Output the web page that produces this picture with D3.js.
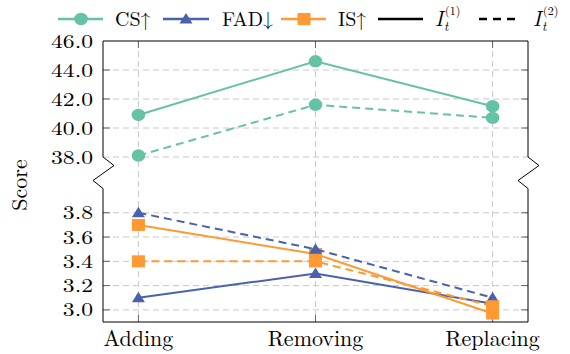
<!DOCTYPE html>
<html lang="en">
<head>
<meta charset="UTF-8">
<title>Score chart</title>
<script src="https://cdn.jsdelivr.net/npm/d3@7"></script>
</head>
<body style="margin:0; background:#fff">
<script>
// data
var categories = ["Adding", "Removing", "Replacing"];
var csI1 = [40.9, 44.6, 41.5];
var csI2 = [38.1, 41.6, 40.7];
var fadI1 = [3.1, 3.3, 3.05];
var fadI2 = [3.8, 3.5, 3.1];
var isI1 = [3.7, 3.46, 2.97];
var isI2 = [3.4, 3.4, 3.03];
var topTicks = [38, 40, 42, 44, 46];
var bottomTicks = [3.0, 3.2, 3.4, 3.6, 3.8];

var width = 570, height = 354;
var left = 103, right = 528;
var topY = 41, topBottom = 157, botTop = 188.5, botBottom = 322;

var teal = "#66c2a5", blue = "#4a62ad", orange = "#ff9933";
var gridColor = "#c8c8c8";
var serif = "'Latin Modern Roman', 'Liberation Serif', serif";

var svg = d3.select("body").append("svg")
    .attr("width", width)
    .attr("height", height);

// scales
var x = d3.scalePoint().domain(categories).range([left, right]).padding(0.2);
var yTop = d3.scaleLinear().domain([38, 46]).range([topBottom, topY]);
var yBot = d3.scaleLinear().domain([2.9, 4.0]).range([botBottom, botTop]);

// grid
var grid = svg.append("g");
topTicks.forEach(function (t) {
    if (t === 46) return;
    grid.append("line")
        .attr("x1", left).attr("x2", right)
        .attr("y1", yTop(t)).attr("y2", yTop(t))
        .attr("stroke", gridColor).attr("stroke-dasharray", "6,4");
});
bottomTicks.forEach(function (t) {
    grid.append("line")
        .attr("x1", left).attr("x2", right)
        .attr("y1", yBot(t)).attr("y2", yBot(t))
        .attr("stroke", gridColor).attr("stroke-dasharray", "6,4");
});
categories.forEach(function (c) {
    grid.append("line")
        .attr("x1", x(c)).attr("x2", x(c))
        .attr("y1", topY).attr("y2", botBottom)
        .attr("stroke", gridColor).attr("stroke-dasharray", "6,4");
});

// ticks (inward, both sides)
var ticks = svg.append("g").attr("stroke", "#666").attr("stroke-width", 1);
var tl = 7;
topTicks.forEach(function (t) {
    if (t === 46 || t === 38) return;
    ticks.append("line").attr("x1", left).attr("x2", left + tl).attr("y1", yTop(t)).attr("y2", yTop(t));
    ticks.append("line").attr("x1", right).attr("x2", right - tl).attr("y1", yTop(t)).attr("y2", yTop(t));
});
bottomTicks.forEach(function (t) {
    ticks.append("line").attr("x1", left).attr("x2", left + tl).attr("y1", yBot(t)).attr("y2", yBot(t));
    ticks.append("line").attr("x1", right).attr("x2", right - tl).attr("y1", yBot(t)).attr("y2", yBot(t));
});
categories.forEach(function (c) {
    ticks.append("line").attr("x1", x(c)).attr("x2", x(c)).attr("y1", topY).attr("y2", topY + tl);
    ticks.append("line").attr("x1", x(c)).attr("x2", x(c)).attr("y1", botBottom).attr("y2", botBottom - tl);
});

// frame with break zigzags
var frame = svg.append("g").attr("fill", "none").attr("stroke", "#000").attr("stroke-width", 1);
frame.append("path").attr("d",
    "M" + left + "," + topBottom + "V" + topY + "H" + right + "V" + topBottom);
frame.append("path").attr("d",
    "M" + left + "," + botTop + "V" + botBottom + "H" + right + "V" + botTop);
function zig(x0) {
    return "M" + x0 + "," + topBottom + "L" + (x0 + 11) + "," + (topBottom + 8.5) +
        "L" + (x0 - 10) + "," + (botTop - 8) + "L" + x0 + "," + botTop;
}
frame.append("path").attr("d", zig(left));
frame.append("path").attr("d", zig(right));

// tick labels
function stretchText(sel, k) {
    sel.each(function () {
        var len = this.getComputedTextLength();
        d3.select(this).attr("textLength", len * k).attr("lengthAdjust", "spacingAndGlyphs");
    });
}
function txt(g, size) {
    return g.append("text").style("font-family", serif).style("font-size", size + "px").attr("fill", "#000");
}
var labels = svg.append("g");
topTicks.forEach(function (d) {
    var t = txt(labels, 19.5).attr("x", 93).attr("y", yTop(d) + 6.5)
        .attr("text-anchor", "end").text(d.toFixed(1));
    stretchText(t, 1.21);
});
bottomTicks.forEach(function (d) {
    var t = txt(labels, 19.5).attr("x", 93).attr("y", yBot(d) + 6.5)
        .attr("text-anchor", "end").text(d.toFixed(1));
    stretchText(t, 1.21);
});
categories.forEach(function (d) {
    txt(labels, 22).attr("x", x(d)).attr("y", 346)
        .attr("text-anchor", "middle").text(d);
});

txt(svg, 22)
    .attr("transform", "translate(27,185) rotate(-90)")
    .attr("text-anchor", "middle")
    .text("Score");

// series
var line = d3.line();
function drawMarker(g, cx, cy, color, marker) {
    if (marker === "circle") {
        g.append("ellipse").attr("cx", cx).attr("cy", cy).attr("rx", 6.8).attr("ry", 6.2).attr("fill", color);
    } else if (marker === "triangle") {
        g.append("path")
            .attr("d", "M" + cx + "," + (cy - 6) + "L" + (cx + 6.5) + "," + (cy + 4.5) + "L" + (cx - 6.5) + "," + (cy + 4.5) + "Z")
            .attr("fill", color);
    } else {
        g.append("rect").attr("x", cx - 6.5).attr("y", cy - 6).attr("width", 13).attr("height", 12).attr("fill", color);
    }
}
function drawSeries(vals, scale, color, dashed, marker) {
    var pts = categories.map(function (c, i) { return [x(c), scale(vals[i])]; });
    svg.append("path")
        .attr("d", line(pts))
        .attr("fill", "none")
        .attr("stroke", color)
        .attr("stroke-width", 2)
        .attr("stroke-dasharray", dashed ? "8,5" : null);
    pts.forEach(function (p) { drawMarker(svg, p[0], p[1], color, marker); });
}
drawSeries(csI1, yTop, teal, false, "circle");
drawSeries(fadI1, yBot, blue, false, "triangle");
drawSeries(isI1, yBot, orange, false, "square");
drawSeries(csI2, yTop, teal, true, "circle");
drawSeries(fadI2, yBot, blue, true, "triangle");
drawSeries(isI2, yBot, orange, true, "square");

// legend
var ly = 19;
var legend = svg.append("g");
function legLine(x1, x2, color, dashed) {
    legend.append("line").attr("x1", x1).attr("x2", x2).attr("y1", ly).attr("y2", ly)
        .attr("stroke", color).attr("stroke-width", 2.4)
        .attr("stroke-dasharray", dashed ? "8,6" : null);
}
function legText(tx, s) {
    txt(legend, 20).attr("x", tx).attr("y", ly + 7).text(s);
}
legLine(58, 103, teal, false);
drawMarker(legend, 81, ly, teal, "circle");
legText(115, "CS\u2191");
legLine(163, 209, blue, false);
drawMarker(legend, 186, ly, blue, "triangle");
legText(222, "FAD\u2193");
legLine(281, 326, orange, false);
drawMarker(legend, 304, ly, orange, "square");
legText(338, "IS\u2191");
legLine(378, 423, "#000", false);
legLine(479, 519, "#000", true);
// I_t^(k) built from separate pieces
function legMath(tx, sup) {
    txt(legend, 21).style("font-style", "italic").attr("x", tx).attr("y", ly + 7).text("I");
    txt(legend, 13).style("font-style", "italic").attr("x", tx + 9).attr("y", ly + 12).text("t");
    txt(legend, 12).attr("x", tx + 10).attr("y", ly - 4).text("(" + sup + ")");
}
legMath(435, "1");
legMath(533, "2");
</script>
</body>
</html>
